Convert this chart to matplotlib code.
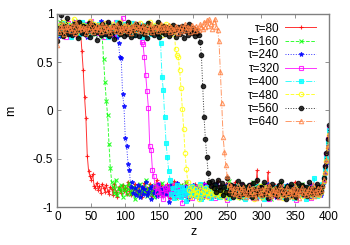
import numpy as np
import matplotlib
matplotlib.use("Agg")
import matplotlib.pyplot as plt

plt.rcParams['font.family'] = ['Liberation Sans', 'DejaVu Sans']

# m(z) profiles, in hundredths, z = 0, 2, 4, ..., 400
taus = [80, 160, 240, 320, 400, 480, 560, 640]

m_80 = [74, 82, 88, 80, 91, 85, 79, 87, 93, 84,
        86, 90, 81, 88, 77, 85, 92, 83, 62, 42,
        14, -8, -47, -63, -68, -72, -66, -78, -80, -75,
        -82, -78, -85, -76, -80, -84, -77, -83, -86, -79,
        -81, -88, -76, -84, -90, -79, -82, -85, -77, -83,
        -80, -86, -74, -83, -88, -79, -84, -76, -82, -87,
        -78, -84, -90, -81, -75, -85, -80, -87, -76, -83,
        -89, -79, -84, -72, -86, -81, -77, -88, -83, -80,
        -85, -76, -82, -91, -79, -84, -73, -86, -81, -78,
        -83, -88, -77, -85, -80, -74, -87, -82, -79, -90,
        -81, -76, -86, -83, -78, -89, -80, -84, -75, -82,
        -87, -79, -83, -91, -77, -84, -80, -86, -73, -82,
        -78, -85, -81, -88, -76, -83, -90, -79, -84, -80,
        -86, -74, -82, -87, -79, -85, -81, -77, -89, -83,
        -80, -84, -76, -88, -82, -79, -86, -62, -83, -85,
        -91, -78, -84, -80, -87, -64, -82, -86, -79, -83,
        -77, -85, -81, -89, -76, -84, -80, -87, -82, -78,
        -84, -90, -79, -83, -86, -74, -81, -88, -80, -85,
        -82, -77, -86, -80, -84, -91, -78, -83, -76, -85,
        -81, -87, -79, -84, -80, -76, -72, -63, -52, -40,
        -28]

m_160 = [80, 87, 92, 84, 78, 89, 85, 91, 83, 86,
         88, 79, 85, 93, 82, 87, 76, 84, 90, 86,
         83, 89, 78, 86, 92, 81, 87, 84, 79, 88,
         85, 82, 88, 76, 53, 30, 10, -5, -35, -60,
         -74, -79, -85, -72, -88, -80, -83, -77, -90, -82,
         -78, -86, -81, -75, -87, -83, -79, -92, -80, -84,
         -88, -76, -83, -80, -85, -72, -89, -81, -78, -86,
         -82, -90, -77, -84, -79, -87, -81, -75, -85, -83,
         -79, -84, -88, -80, -76, -86, -83, -91, -78, -82,
         -85, -77, -82, -89, -81, -74, -86, -80, -84, -79,
         -88, -83, -78, -85, -90, -80, -76, -84, -82, -87,
         -81, -75, -86, -79, -83, -89, -77, -85, -80, -84,
         -90, -82, -78, -86, -81, -84, -73, -88, -79, -83,
         -85, -80, -87, -76, -83, -91, -79, -84, -81, -78,
         -86, -83, -79, -88, -74, -82, -85, -80, -87, -77,
         -83, -89, -81, -76, -85, -80, -84, -92, -78, -82,
         -79, -86, -83, -80, -88, -75, -84, -81, -87, -79,
         -84, -78, -90, -82, -77, -85, -80, -86, -83, -88,
         -76, -83, -81, -87, -79, -84, -89, -80, -85, -82,
         -88, -80, -84, -78, -83, -77, -69, -60, -47, -35,
         -22]

m_240 = [82, 77, 88, 85, 91, 80, 86, 83, 89, 78,
         87, 84, 92, 81, 86, 89, 79, 85, 83, 90,
         84, 88, 76, 85, 91, 82, 87, 80, 86, 89,
         81, 86, 93, 84, 79, 88, 85, 82, 90, 83,
         87, 78, 85, 82, 76, 70, 55, 54, 17, 5,
         -29, -37, -55, -62, -79, -74, -85, -80, -88, -77,
         -83, -90, -79, -86, -81, -74, -88, -84, -80, -92,
         -78, -85, -82, -89, -76, -84, -80, -87, -83, -79,
         -86, -81, -95, -77, -84, -88, -80, -83, -75, -85,
         -82, -89, -79, -84, -86, -78, -92, -81, -85, -80,
         -77, -84, -88, -82, -79, -86, -83, -90, -76, -84,
         -81, -87, -80, -85, -78, -89, -83, -76, -86, -82,
         -88, -79, -84, -81, -91, -77, -85, -80, -83, -87,
         -80, -86, -82, -78, -85, -90, -79, -84, -88, -81,
         -84, -77, -89, -83, -80, -86, -82, -91, -78, -85,
         -79, -84, -81, -87, -83, -76, -88, -80, -85, -82,
         -86, -90, -78, -83, -81, -85, -79, -88, -84, -77,
         -83, -80, -87, -84, -79, -91, -82, -86, -78, -85,
         -81, -88, -84, -79, -86, -82, -90, -77, -83, -87,
         -84, -79, -86, -82, -88, -80, -74, -66, -55, -42,
         -30]

m_320 = [79, 86, 82, 90, 84, 88, 76, 85, 91, 83,
         88, 81, 86, 92, 79, 87, 84, 89, 82, 86,
         90, 83, 78, 87, 85, 93, 81, 86, 84, 80,
         87, 82, 89, 85, 76, 84, 91, 86, 80, 88,
         83, 87, 79, 92, 85, 81, 88, 84, 96, 82,
         86, 80, 89, 84, 91, 78, 85, 87, 83, 90,
         84, 88, 71, 69, 55, 37, 20, 3, -37, -41,
         -62, -68, -79, -84, -76, -88, -81, -85, -92, -80,
         -86, -78, -83, -90, -81, -87, -77, -84, -89, -82,
         -80, -85, -96, -79, -84, -88, -82, -86, -78, -91,
         -84, -81, -87, -79, -90, -83, -86, -80, -88, -77,
         -85, -89, -82, -78, -86, -84, -91, -80, -83, -87,
         -79, -84, -88, -81, -85, -93, -80, -86, -82, -78,
         -87, -83, -80, -89, -84, -77, -86, -82, -90, -81,
         -83, -88, -85, -79, -91, -84, -80, -87, -82, -86,
         -80, -84, -89, -83, -78, -86, -92, -81, -85, -79,
         -88, -82, -84, -90, -80, -87, -83, -78, -86, -84,
         -81, -86, -79, -85, -88, -82, -93, -84, -80, -87,
         -85, -80, -88, -83, -86, -79, -84, -91, -82, -78,
         -86, -83, -80, -88, -82, -78, -71, -59, -45, -30,
         -17]

m_400 = [84, 79, 88, 82, 86, 91, 80, 87, 83, 89,
         76, 85, 90, 82, 88, 84, 79, 86, 92, 81,
         87, 83, 89, 78, 85, 91, 84, 80, 88, 86,
         82, 90, 85, 79, 87, 83, 89, 76, 84, 88,
         86, 81, 88, 84, 92, 79, 85, 87, 82, 90,
         83, 88, 80, 86, 84, 91, 78, 85, 89, 82,
         87, 84, 76, 89, 83, 86, 81, 88, 85, 79,
         88, 82, 86, 84, 80, 77, 70, 35, 21, -7,
         -34, -48, -63, -72, -86, -80, -91, -84, -77, -88,
         -83, -90, -79, -86, -82, -94, -80, -85, -88, -78,
         -85, -81, -89, -83, -87, -76, -92, -84, -80, -86,
         -79, -88, -84, -91, -82, -85, -78, -87, -83, -90,
         -86, -80, -83, -88, -79, -85, -91, -82, -87, -81,
         -84, -89, -78, -86, -83, -80, -88, -85, -92, -79,
         -87, -82, -85, -80, -90, -84, -78, -86, -83, -89,
         -81, -86, -92, -84, -79, -88, -82, -85, -80, -87,
         -85, -79, -84, -89, -83, -87, -81, -90, -78, -86,
         -82, -88, -80, -85, -91, -83, -86, -79, -84, -88,
         -87, -81, -85, -92, -79, -84, -88, -82, -86, -70,
         -84, -89, -81, -86, -80, -76, -70, -61, -49, -33,
         -20]

m_480 = [86, 81, 89, 84, 92, 78, 87, 83, 90, 85,
         82, 88, 95, 84, 80, 87, 91, 83, 86, 89,
         84, 79, 88, 85, 93, 82, 86, 90, 81, 87,
         89, 84, 80, 88, 85, 91, 83, 87, 79, 86,
         83, 90, 86, 82, 88, 84, 92, 80, 87, 85,
         88, 82, 85, 91, 79, 86, 84, 89, 83, 87,
         85, 91, 83, 87, 80, 88, 84, 86, 92, 81,
         87, 83, 89, 85, 82, 90, 86, 78, 88, 84,
         90, 84, 88, 81, 86, 79, 83, 64, 58, 55,
         42, 23, 2, -19, -44, -61, -74, -82, -90, -79,
         -86, -81, -88, -84, -92, -78, -85, -83, -89, -80,
         -84, -90, -82, -87, -79, -85, -88, -81, -86, -83,
         -89, -80, -85, -83, -91, -86, -78, -84, -88, -82,
         -81, -87, -84, -90, -80, -85, -89, -83, -79, -86,
         -88, -83, -86, -81, -84, -92, -80, -87, -85, -78,
         -85, -90, -82, -86, -79, -84, -88, -83, -87, -81,
         -83, -86, -80, -88, -84, -78, -91, -85, -82, -87,
         -87, -81, -85, -83, -90, -86, -80, -84, -88, -79,
         -84, -89, -82, -86, -80, -87, -83, -90, -85, -81,
         -80, -86, -83, -88, -84, -79, -73, -65, -52, -39,
         -25]

m_560 = [72, 85, 80, 99, 77, 88, 82, 96, 79, 86,
         84, 78, 90, 81, 87, 75, 92, 83, 80, 88,
         79, 86, 82, 91, 76, 85, 89, 80, 84, 73,
         87, 81, 78, 90, 84, 79, 86, 92, 77, 83,
         80, 88, 74, 85, 82, 91, 79, 86, 83, 77,
         85, 79, 92, 81, 76, 87, 83, 78, 90, 84,
         77, 86, 82, 88, 79, 84, 75, 91, 85, 80,
         83, 78, 87, 80, 92, 76, 84, 81, 88, 79,
         86, 82, 77, 85, 80, 89, 83, 76, 84, 87,
         79, 84, 88, 75, 82, 86, 78, 90, 83, 80,
         85, 77, 83, 80, 78, 71, 58, 25, -7, -30,
         -48, -65, -74, -78, -73, -80, -76, -84, -72, -79,
         -82, -75, -88, -79, -84, -70, -86, -81, -77, -90,
         -78, -85, -80, -73, -89, -82, -76, -86, -79, -84,
         -87, -77, -83, -90, -75, -81, -86, -72, -84, -80,
         -79, -88, -74, -85, -82, -91, -78, -83, -76, -86,
         -84, -80, -89, -77, -83, -73, -87, -81, -92, -78,
         -85, -79, -76, -88, -81, -84, -90, -75, -83, -80,
         -77, -86, -82, -79, -89, -74, -84, -80, -87, -83,
         -81, -76, -85, -79, -83, -78, -70, -58, -44, -30,
         -15]

m_640 = [68, 81, 87, 84, 90, 79, 86, 83, 88, 85,
         82, 89, 85, 80, 91, 86, 83, 88, 84, 87,
         85, 80, 88, 83, 86, 92, 81, 87, 84, 89,
         83, 87, 81, 90, 85, 82, 88, 84, 86, 80,
         88, 84, 86, 82, 90, 85, 81, 87, 83, 89,
         84, 89, 82, 86, 80, 88, 85, 91, 83, 86,
         87, 82, 85, 89, 84, 81, 88, 83, 86, 90,
         81, 86, 84, 88, 82, 87, 90, 85, 83, 88,
         86, 83, 89, 81, 87, 84, 82, 88, 85, 80,
         84, 88, 82, 86, 90, 83, 87, 85, 81, 89,
         86, 82, 88, 85, 83, 90, 87, 84, 92, 86,
         94, 88, 95, 90, 84, 92, 95, 87, 83, 72,
         40, 8, -27, -43, -56, -68, -76, -82, -78, -85,
         -80, -86, -83, -77, -88, -81, -85, -79, -84, -90,
         -82, -78, -87, -84, -80, -86, -91, -83, -79, -85,
         -88, -81, -84, -79, -86, -83, -77, -89, -82, -85,
         -80, -87, -83, -90, -78, -85, -82, -88, -84, -79,
         -86, -83, -89, -81, -85, -78, -87, -82, -91, -84,
         -79, -85, -82, -88, -84, -80, -86, -83, -77, -89,
         -83, -87, -80, -85, -82, -77, -72, -64, -51, -37,
         -24]

series = [m_80, m_160, m_240, m_320, m_400, m_480, m_560, m_640]
colors = ['#ff0000', '#00ff00', '#0000ff', '#ff00ff',
          '#00ffff', '#ffff00', '#000000', '#ff7f3f']
markers = ['+', 'x', '*', 's', 's', 'o', 'o', '^']
filled = [True, True, True, False, True, False, True, False]
styles = ['-', '--', ':', '-', '-.', '--', ':', '-.']

fig = plt.figure(figsize=(3.5, 2.45), dpi=100)
ax = fig.add_axes([0.164, 0.155, 0.776, 0.788])

for tau, m, c, mk, f, ls in zip(taus, series, colors, markers, filled, styles):
    z = np.arange(len(m)) * 2
    ax.plot(z, np.array(m) / 100.0, linestyle=ls, color=c, lw=0.7, alpha=0.8,
            marker=mk, markersize=3.2, markeredgewidth=0.8,
            markerfacecolor=c if f else 'none', markeredgecolor=c,
            label='τ=%d' % tau)

ax.set_xlim(0, 400)
ax.set_ylim(-1, 1)
ax.set_xticks(np.arange(0, 401, 50))
ax.set_yticks([-1, -0.5, 0, 0.5, 1])
ax.set_yticklabels(['-1', '-0.5', '0', '0.5', '1'])
ax.tick_params(direction='in', length=3, width=0.6, labelsize=8.5,
               top=True, right=True, color='#808080', pad=3)
for s in ax.spines.values():
    s.set_color('#808080')
    s.set_linewidth(1.0)

ax.set_xlabel('z', fontsize=9, labelpad=2)
ax.set_ylabel('m', fontsize=9, rotation=90, labelpad=11)

leg = ax.legend(loc='upper right', bbox_to_anchor=(0.97, 0.98),
                frameon=False, fontsize=8.5, markerfirst=False,
                handlelength=2.6, handletextpad=0.5, labelspacing=0.12,
                borderaxespad=0)

fig.savefig('out.png', dpi=100)
